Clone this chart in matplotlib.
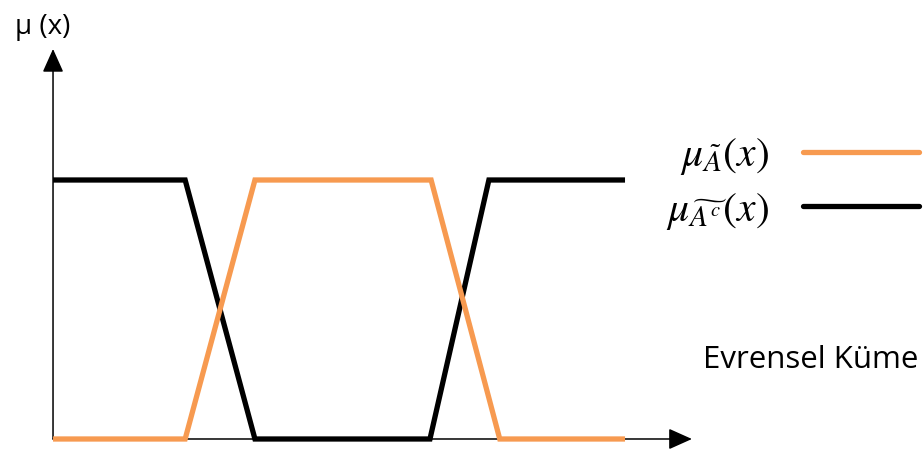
import matplotlib
matplotlib.use("Agg")
import matplotlib.pyplot as plt
from matplotlib.lines import Line2D

plt.rcParams['mathtext.fontset'] = 'stix'

# membership functions over the universe (breakpoints)
x_a = [0.0, 2.31, 3.53, 6.61, 7.81, 10.0]
mu_a = [0, 0, 1, 1, 0, 0]
x_ac = [0.0, 2.31, 3.53, 6.59, 7.62, 10.0]
mu_ac = [1, 1, 0, 0, 1, 1]

labels = [r'$\mu_{\tilde{A}}(x)$', r'$\mu_{\widetilde{A^c}}(x)$']
colors = ['#F79A50', '#000000']
universe_label = "Evrensel Küme"
y_label = "μ (x)"

fig = plt.figure(figsize=(9.24, 4.5), dpi=100)
ax = fig.add_axes([0, 0, 1, 1])
ax.set_xlim(-0.927, 15.227)
ax.set_ylim(-0.0425, 1.695)
ax.axis('off')

# axes with arrows
arr = dict(arrowstyle='-|>,head_length=1.45,head_width=0.65', color='black',
           lw=1.1, mutation_scale=10, shrinkA=0, shrinkB=0)
ax.annotate('', xy=(11.17, 0), xytext=(0, 0), arrowprops=arr)
ax.annotate('', xy=(0, 1.506), xytext=(0, 0), arrowprops=arr)

ax.plot(x_ac, mu_ac, color=colors[1], lw=3.8, solid_joinstyle='miter',
        solid_capstyle='butt', zorder=3)
ax.plot(x_a, mu_a, color=colors[0], lw=3.8, solid_joinstyle='miter',
        solid_capstyle='butt', zorder=4)

handles = [Line2D([], [], color=c, lw=3.8, solid_capstyle='round') for c in colors]
ax.legend(handles, labels, loc='center right', bbox_to_anchor=(0.995, 0.594),
          frameon=False, markerfirst=False, fontsize=30, handlelength=2.8,
          handletextpad=0.8, labelspacing=0.25, borderaxespad=0.0,
          borderpad=0.0)

ax.text(0.9935, 0.2, universe_label, transform=ax.transAxes, ha='right',
        va='center', fontsize=22.5, family='Open Sans')
ax.text(0.016, 0.94, y_label, transform=ax.transAxes, ha='left',
        va='center', fontsize=20, family='Open Sans')

fig.savefig('out.png', dpi=100)
